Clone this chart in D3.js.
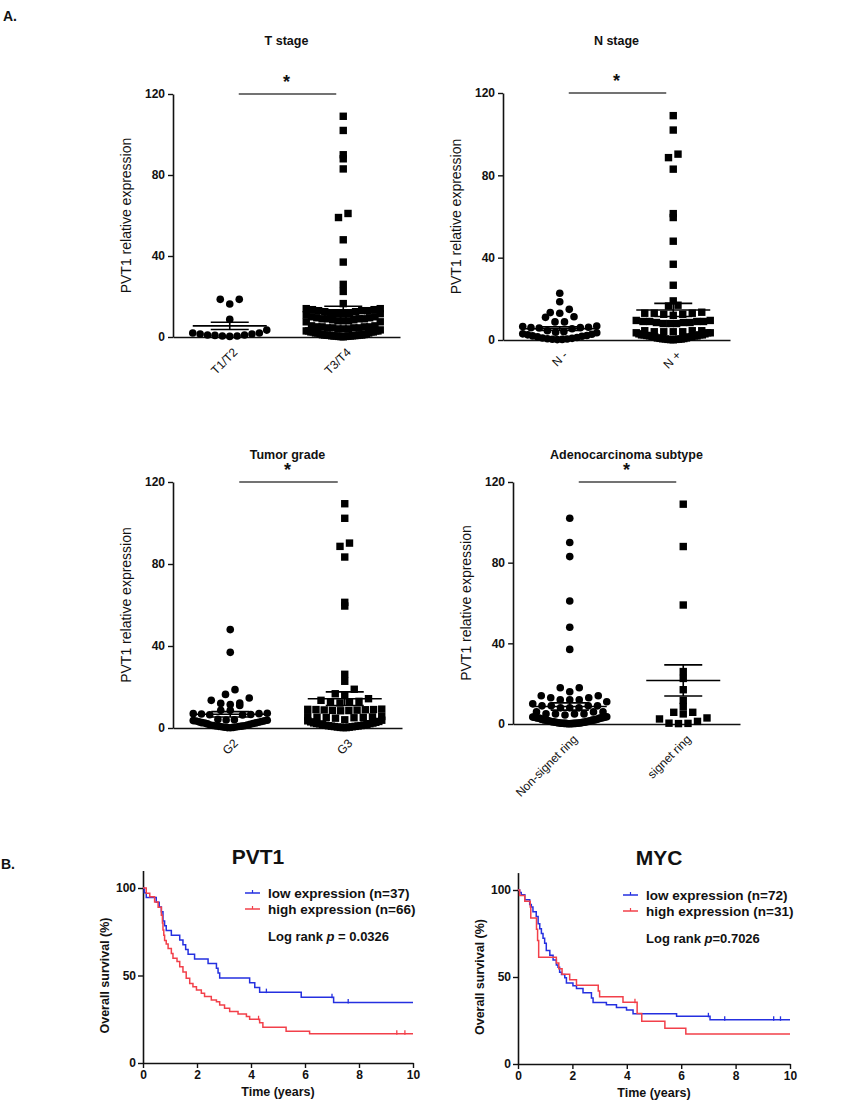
<!DOCTYPE html>
<html><head><meta charset="utf-8">
<script src="https://cdn.jsdelivr.net/npm/d3@7"></script>
<style>
body{margin:0;background:#fff}
svg{display:block}
text{font-family:"Liberation Sans",Arial,sans-serif;fill:#111}
</style>
</head><body>
<svg id="c" width="858" height="1107"></svg>
<script>
// ---------------- DATA ----------------
const scatterTicks = [0, 40, 80, 120];

const tStageCats = ["T1/T2", "T3/T4"];
const tStageA = [18.6, 16.3, 18.6, 8.7, 3.4, 2, 1.5, 1, 0.8, 0.5, 0.3, 0.5, 1, 1.5, 2];
const tStageB = [109, 102, 90, 88, 83, 61, 59, 48, 37, 26, 22.5, 16.5,
  14, 13.5, 13, 12.5, 13, 14, 13.5, 12, 13, 12.5,
  12, 11, 12, 11.5, 12,
  10, 9.5, 9, 9, 8.5, 9, 10, 8, 9.5, 8.5, 9, 8, 7.5, 8, 7.5,
  5, 4.5, 5, 4, 5.5, 4.5, 5, 4, 5.5, 4.5, 4, 5, 4.5,
  3, 2.5, 3, 2, 3.5, 2.5, 2, 3, 2.5, 2, 3, 2.5,
  1.5, 1, 0.5, 1, 1.5, 0.5, 1, 0.8, 0.3, 1.2, 0.6, 0.9, 0.4, 0.2, 1.1, 0.7, 0.5, 0.3, 0.1, 0.6, 0.8];
const tStageMean = [5.5, 12.7];
const tStageSem = [1.8, 2.5];

const nStageCats = ["N -", "N +"];
const nStageA = [22.7, 18.6, 14.9, 13, 13.3, 11.3, 11, 8.8, 8.8, 6.5, 6, 5.5, 6.2, 6.8, 5.8, 6,
  4.5, 4, 3.5, 3.8, 3, 2.5, 2.8, 2, 2.2, 1.5, 1.8, 1.2, 1, 0.8, 0.5, 0.3, 0.6, 0.2, 0.4];
const nStageB = [109, 102, 90.3, 88.6, 83, 61.4, 59.5, 48, 36.8, 26.6,
  19, 16.9, 16.5,
  13, 13.5, 12.5, 13, 12, 12.5, 13,
  9, 8.5, 9, 9.5, 8, 9, 8.5, 9, 8, 8.5, 9.5, 8,
  4.5, 4, 3.5, 4, 4.5, 3.5, 4, 3, 3.5, 4, 4.5, 3,
  2.5, 2, 2.5, 1.5, 2, 2.5, 1.5, 2, 2.5, 1.8, 2.2, 1.5,
  1, 0.5, 0.8, 0.3, 0.6, 1, 0.2, 0.4, 0.7, 0.5, 0.3, 0.1];
const nStageMean = [5.5, 14.6];
const nStageSem = [0.9, 3.2];

const gradeCats = ["G2", "G3"];
const gradeA = [48, 36.9, 18.7, 16.4, 14.6, 13.5, 12, 11.5, 11, 12.2, 8.6, 8.6, 7, 6.6, 7.2, 6.4, 6.8, 7, 6.5,
  4.2, 3.8, 3.5, 4, 3.2, 3.6, 3, 3.4, 2.8, 3.9, 2.5, 2.2, 2, 2.6, 1.8, 2.4, 1.5, 1.2, 1, 1.4,
  0.8, 1.1, 0.5, 0.6, 0.3, 0.9, 0.2, 0.4, 0.1, 0.7];
const gradeB = [109.4, 102.3, 90.2, 88.6, 83.4, 61.3, 59.5, 26.2, 22.8, 18.9, 16.7, 16,
  14.3, 13, 12.7, 12.5, 13.5, 12.2,
  8.9, 9, 8.5, 8.8, 9.2, 8.6, 8.4, 9, 8.7, 9.1,
  5.4, 5.2, 5.6, 5, 5.5, 5.3, 4.8, 5.1,
  4, 3.5, 3, 3.8, 2.5, 3.2, 2, 2.8, 1.5, 2.2, 1, 1.8, 0.5, 1.2, 0.2, 0.8, 0.4,
  2.1, 1.6, 0.9, 0.6, 1.3, 0.3, 2.4, 1.1, 0.7, 0.2];
const gradeMean = [6.7, 14.3];
const gradeSem = [1.3, 3.3];

const subtypeCats = ["Non-signet ring", "signet ring"];
const subtypeA = [102, 90, 83, 61, 48, 37,
  18, 16, 18,
  14, 13, 12, 12, 13, 14, 11, 12,
  9, 9, 8, 9, 10, 8, 9, 8,
  6, 5, 6, 5, 5, 6, 4.5, 5,
  3.5, 3, 3, 3.2, 3.5, 2.8, 3, 3.4, 3.1, 2.9, 3.3, 3.6,
  2, 2.2, 1.8, 2.5, 2, 1.9, 2.3, 2.1, 1.7, 2.4, 2, 1.6,
  1, 1.2, 0.8, 1.4, 1.1, 0.9, 1.3, 1, 1.5, 0.7, 1.2, 0.9,
  0.5, 0.3, 0.6, 0.2, 0.4, 0.5, 0.1, 0.3, 0.6, 0.2, 0.4, 0.5, 0.3, 0.2, 0.4, 0.1, 0.3];
const subtypeB = [109, 88, 59, 26, 22.6, 17, 11.7, 8.7, 5.8, 5.8, 5, 3, 2.5, 1.3, 0.3, 0.2, 0.4];
const subtypeMean = [8.7, 21.6];
const subtypeSem = [1.8, 7.7];

// Kaplan-Meier
const kmYTicks = [0, 50, 100];
const kmXTicks = [0, 2, 4, 6, 8, 10];

const pvt1LowTime = [0, 0.05, 0.12, 0.49, 0.6, 0.68, 0.74, 0.8, 0.86, 1.05, 1.36, 1.48, 1.58, 1.67, 1.91, 2.41, 2.72, 2.78, 2.84, 3.95, 4.14, 4.32, 5.86, 7.06];
const pvt1LowSurv = [100, 97.3, 94.6, 91.9, 89.2, 86.5, 81.1, 78.4, 75.7, 73, 70.3, 67.6, 64.9, 62.2, 59.5, 56.8, 54.1, 51.4, 48.6, 45.9, 43.2, 40.5, 37.6, 34.6];
const pvt1LowCensor = [4.57, 7.0, 7.6];
const pvt1HighTime = [0, 0.12, 0.25, 0.43, 0.56, 0.68, 0.72, 0.74, 0.77, 0.8, 0.86, 0.93, 1.05, 1.11, 1.26, 1.36, 1.48, 1.6, 1.73, 1.85, 1.98, 2.16, 2.28, 2.53, 2.72, 2.84, 3.02, 3.21, 3.52, 3.83, 3.95, 4.32, 4.44, 5.3, 6.17];
const pvt1HighSurv = [100, 97, 95, 92, 89, 84.5, 80, 76, 73, 70, 68, 65.5, 62.6, 59.8, 58, 55, 52, 48.4, 45.5, 43.6, 41.7, 39.8, 38, 36, 35, 33.2, 31.3, 29.4, 28, 26.6, 25, 23, 20.5, 18.2, 16.7];
const pvt1HighCensor = [4.28, 9.4, 9.7];

const mycLowTime = [0, 0.06, 0.12, 0.25, 0.43, 0.49, 0.55, 0.67, 0.74, 0.8, 0.86, 0.92, 0.98, 1.04, 1.17, 1.29, 1.41, 1.47, 1.53, 1.6, 1.72, 1.78, 2.02, 2.15, 2.39, 2.7, 2.76, 3.25, 3.62, 3.99, 4.23, 5.83, 7.06];
const mycLowSurv = [100, 98.6, 97.2, 94.4, 91.7, 90.3, 87.5, 84.7, 80.6, 77.8, 75, 72.2, 69.4, 65.3, 62.5, 59.7, 56.9, 55.6, 52.8, 51.4, 49.5, 46.5, 45, 43.4, 41, 38, 35.4, 34, 32.5, 31, 28.9, 27.4, 25.4];
const mycLowCensor = [7.0, 7.6, 9.4, 9.65];
const mycHighTime = [0, 0.06, 0.25, 0.45, 0.47, 0.68, 0.72, 0.76, 1.41, 1.5, 1.62, 1.9, 2.15, 2.95, 3.0, 3.86, 4.38, 4.55, 5.4, 6.17];
const mycHighSurv = [100, 96.8, 93.5, 90.3, 83.9, 77.4, 71, 61.3, 58.1, 54.8, 51.6, 48.4, 45.2, 41.9, 38.7, 35.5, 29, 24.5, 20.6, 17.2];
const mycHighCensor = [4.3];

// ---------------- DRAW ----------------
const svg = d3.select("#c");
const BLUE = "#2530e0", RED = "#f2404a";

svg.append("text").attr("x", 3).attr("y", 21).attr("font-size", 14).attr("font-weight", "bold").text("A.");
svg.append("text").attr("x", 1).attr("y", 869).attr("font-size", 14).attr("font-weight", "bold").text("B.");

function styleAxis(a) {
  a.select(".domain").attr("stroke", "#111").attr("stroke-width", 1.6);
  a.selectAll(".tick line").attr("stroke", "#111").attr("stroke-width", 1.4);
}

function swarm(vals, cx, y, size, spacing, half) {
  const pts = vals.map(v => ({v, py: y(v)})).sort((a, b) => a.v - b.v);
  const rows = d3.group(pts, p => Math.floor((y(0) - p.py) / size));
  const out = [];
  for (const [, arr] of rows) {
    const n = arr.length;
    const sp = n > 1 ? Math.min(spacing, 2 * half / (n - 1)) : 0;
    const slots = d3.range(n).map(j => (j - (n - 1) / 2) * sp)
      .sort((a, b) => Math.abs(a) - Math.abs(b) || a - b);
    arr.forEach((p, i) => out.push({x: cx + slots[i], y: p.py}));
  }
  return out;
}

function scatterPanel(o) {
  const y = d3.scaleLinear().domain([0, 120]).range([o.bottom, o.top]);
  const x = d3.scalePoint().domain(o.cats).range([o.left, o.right]).padding(0.5);
  const g = svg.append("g");

  const ya = g.append("g").attr("transform", `translate(${o.left},0)`)
    .call(d3.axisLeft(y).tickValues(scatterTicks).tickSize(5).tickSizeOuter(0).tickPadding(3));
  styleAxis(ya);
  ya.selectAll("text").attr("font-size", 12).attr("font-weight", "bold").attr("font-family", "Liberation Sans, Arial");

  const xa = g.append("g").attr("transform", `translate(0,${o.bottom})`)
    .call(d3.axisBottom(x).tickSize(0).tickSizeOuter(0));
  styleAxis(xa);
  xa.selectAll("text").attr("y", 0).attr("dy", "0.35em").attr("text-anchor", "end")
    .attr("font-size", 12).attr("font-family", "Liberation Sans, Arial")
    .attr("transform", "translate(5,13) rotate(-45)");

  g.append("text").attr("x", o.left - o.labelOff).attr("y", (o.top + o.bottom) / 2)
    .attr("transform", `rotate(-90,${o.left - o.labelOff},${(o.top + o.bottom) / 2})`)
    .attr("text-anchor", "middle").attr("font-size", 14).text("PVT1 relative expression");

  const mid = (x(o.cats[0]) + x(o.cats[1])) / 2;
  g.append("text").attr("x", mid).attr("y", o.titleY).attr("text-anchor", "middle")
    .attr("font-size", 12.5).attr("font-weight", "bold").text(o.title);

  // significance bar
  g.append("line").attr("x1", x(o.cats[0]) + 9).attr("x2", x(o.cats[1]) - 7)
    .attr("y1", y(120)).attr("y2", y(120)).attr("stroke", "#444").attr("stroke-width", 1.5);
  g.append("text").attr("x", mid).attr("y", y(120) - 6).attr("text-anchor", "middle")
    .attr("font-size", 18).attr("font-weight", "bold").text("*");

  const size = 7.4;
  o.groups.forEach((vals, i) => {
    const cx = x(o.cats[i]);
    const pts = swarm(vals, cx, y, 7.8, 9.5, 37);
    if (i === 0) {
      g.append("g").selectAll("circle").data(pts).join("circle")
        .attr("cx", d => d.x).attr("cy", d => d.y).attr("r", 3.8).attr("fill", "#000");
    } else {
      g.append("g").selectAll("rect").data(pts).join("rect")
        .attr("x", d => d.x - size / 2).attr("y", d => d.y - size / 2)
        .attr("width", size).attr("height", size).attr("fill", "#000");
    }
    const m = o.means[i], s = o.sems[i];
    const eb = g.append("g").attr("stroke", "#000").attr("stroke-width", 1.6);
    eb.append("line").attr("x1", cx - 37).attr("x2", cx + 37).attr("y1", y(m)).attr("y2", y(m));
    eb.append("line").attr("x1", cx - 19).attr("x2", cx + 19).attr("y1", y(m + s)).attr("y2", y(m + s));
    eb.append("line").attr("x1", cx - 19).attr("x2", cx + 19).attr("y1", y(m - s)).attr("y2", y(m - s));
    eb.append("line").attr("x1", cx).attr("x2", cx).attr("y1", y(m + s)).attr("y2", y(m - s));
  });
}

scatterPanel({left: 173, right: 400, top: 94, bottom: 337, cats: tStageCats, groups: [tStageA, tStageB],
  means: tStageMean, sems: tStageSem, title: "T stage", titleY: 45, labelOff: 42});
scatterPanel({left: 503, right: 730, top: 93, bottom: 340, cats: nStageCats, groups: [nStageA, nStageB],
  means: nStageMean, sems: nStageSem, title: "N stage", titleY: 45, labelOff: 42});
scatterPanel({left: 173, right: 402, top: 482, bottom: 728, cats: gradeCats, groups: [gradeA, gradeB],
  means: gradeMean, sems: gradeSem, title: "Tumor grade", titleY: 459, labelOff: 42});
scatterPanel({left: 513, right: 740, top: 482, bottom: 724, cats: subtypeCats, groups: [subtypeA, subtypeB],
  means: subtypeMean, sems: subtypeSem, title: "Adenocarcinoma subtype", titleY: 459, labelOff: 42});

function survAt(times, surv, t) {
  let k = 0;
  for (let i = 0; i < times.length; i++) if (times[i] <= t) k = i;
  return surv[k];
}

function kmPanel(o) {
  const x = d3.scaleLinear().domain([0, 10]).range([o.left, o.right]);
  const y = d3.scaleLinear().domain([0, 110]).range([o.bottom, o.bottom - (o.bottom - o.y100) * 1.1]);
  const g = svg.append("g");

  const ya = g.append("g").attr("transform", `translate(${o.left},0)`)
    .call(d3.axisLeft(y).tickValues(kmYTicks).tickSize(5).tickSizeOuter(0).tickPadding(2));
  styleAxis(ya);
  ya.selectAll("text").attr("font-size", 12).attr("font-weight", "bold").attr("font-family", "Liberation Sans, Arial");
  const xa = g.append("g").attr("transform", `translate(0,${o.bottom})`)
    .call(d3.axisBottom(x).tickValues(kmXTicks).tickSize(5).tickSizeOuter(0).tickPadding(2));
  styleAxis(xa);
  xa.selectAll("text").attr("font-size", 12).attr("font-weight", "bold").attr("font-family", "Liberation Sans, Arial");

  g.append("text").attr("x", (o.left + o.right) / 2).attr("y", o.bottom + 33).attr("text-anchor", "middle")
    .attr("font-size", 12.5).attr("font-weight", "bold").text("Time (years)");
  const ly = y(50), lx = o.left - 34;
  g.append("text").attr("x", lx).attr("y", ly).attr("transform", `rotate(-90,${lx},${ly})`)
    .attr("text-anchor", "middle").attr("font-size", 12.5).attr("font-weight", "bold").text("Overall survival (%)");

  g.append("text").attr("x", o.titleX).attr("y", o.bottom - 199).attr("text-anchor", "middle")
    .attr("font-family", "Lato, 'Open Sans', sans-serif").attr("font-size", 21).attr("font-weight", "bold").text(o.title);

  const line = d3.line().x(d => x(d[0])).y(d => y(d[1])).curve(d3.curveStepAfter);
  o.series.forEach(s => {
    const pts = s.time.map((t, i) => [t, s.surv[i]]);
    pts.push([10, s.surv[s.surv.length - 1]]);
    g.append("path").attr("d", line(pts)).attr("fill", "none").attr("stroke", s.color).attr("stroke-width", 1.5);
    g.append("g").selectAll("line").data(s.censor).join("line")
      .attr("x1", d => x(d)).attr("x2", d => x(d))
      .attr("y1", d => y(survAt(s.time, s.surv, d)) - 3.5).attr("y2", d => y(survAt(s.time, s.surv, d)) + 1)
      .attr("stroke", s.color).attr("stroke-width", 1.3);
  });

  // legend
  o.series.forEach((s, i) => {
    const yy = o.legY + i * 16;
    g.append("line").attr("x1", o.legX).attr("x2", o.legX + 15).attr("y1", yy).attr("y2", yy)
      .attr("stroke", s.color).attr("stroke-width", 1.5);
    g.append("line").attr("x1", o.legX + 7.5).attr("x2", o.legX + 7.5).attr("y1", yy - 3).attr("y2", yy)
      .attr("stroke", s.color).attr("stroke-width", 1.2);
    g.append("text").attr("x", o.legX + 23).attr("y", yy + 4.5).attr("font-size", 13.5)
      .attr("font-weight", "bold").text(s.label);
  });
  const pt = g.append("text").attr("x", o.legX + 23).attr("y", o.legY + 48).attr("font-size", 13)
    .attr("font-weight", "bold");
  pt.append("tspan").text("Log rank ");
  pt.append("tspan").attr("font-style", "italic").text("p");
  pt.append("tspan").text(o.pText);
}

kmPanel({left: 143, right: 413, bottom: 1063, y100: 888, title: "PVT1", titleX: 258, legX: 245, legY: 893,
  pText: " = 0.0326",
  series: [
    {time: pvt1LowTime, surv: pvt1LowSurv, censor: pvt1LowCensor, color: BLUE, label: "low expression (n=37)"},
    {time: pvt1HighTime, surv: pvt1HighSurv, censor: pvt1HighCensor, color: RED, label: "high expression (n=66)"}
  ]});
kmPanel({left: 518, right: 790, bottom: 1064, y100: 890, title: "MYC", titleX: 659, legX: 623, legY: 895,
  pText: "=0.7026",
  series: [
    {time: mycLowTime, surv: mycLowSurv, censor: mycLowCensor, color: BLUE, label: "low expression (n=72)"},
    {time: mycHighTime, surv: mycHighSurv, censor: mycHighCensor, color: RED, label: "high expression (n=31)"}
  ]});
</script>
</body></html>
